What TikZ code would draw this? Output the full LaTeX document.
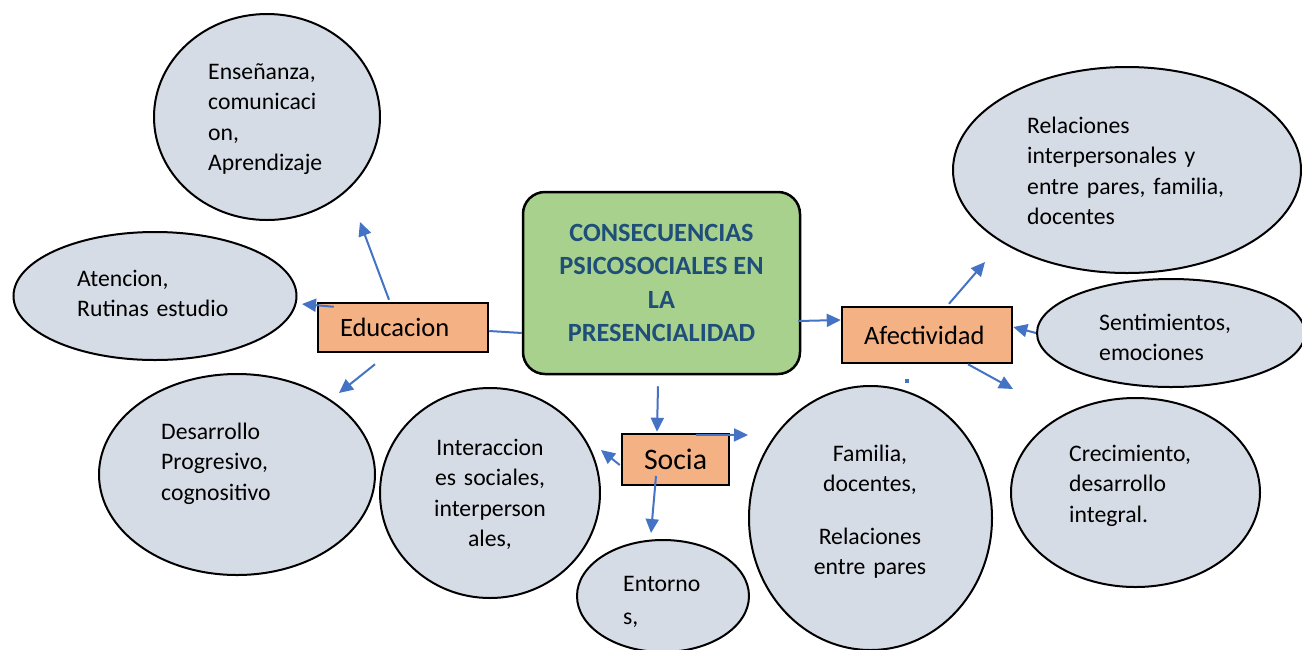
\documentclass[tikz,border=0pt]{standalone}
\usepackage{fontspec}
\setmainfont{Carlito}
\usetikzlibrary{shapes.geometric,arrows.meta,calc}
\definecolor{arrblue}{HTML}{4472C4}
\definecolor{bubblegray}{HTML}{D6DCE5}
\definecolor{branchorange}{HTML}{F4B183}
\definecolor{coregreen}{HTML}{A9D18E}
\definecolor{coretext}{HTML}{1F4E79}
\begin{document}
\begin{tikzpicture}[x=1pt, y=-1pt,
  bubble/.style={ellipse, draw=black, line width=2pt, fill=bubblegray, inner sep=0pt},
  branch/.style={draw=black, line width=2.5pt, fill=branchorange, inner xsep=22pt, inner ysep=0pt, align=left, font=\fontsize{26.5}{30}\selectfont},
  core/.style={draw=black, line width=2.5pt, fill=coregreen, rounded corners=22pt, align=center, text=coretext, font=\fontsize{26.3}{33.4}\selectfont\bfseries},
  txt/.style={anchor=base west, inner sep=0pt, align=left, text width=260pt, font=\fontsize{23.7}{30.6}\selectfont},
  arr/.style={draw=arrblue, line width=2pt, -{Triangle[length=14pt,width=13pt]}}]
\useasboundingbox (0,0) rectangle (1302,649);
\node[core, minimum width=277pt, minimum height=182pt] (C) at (661.5,283) {CONSECUENCIAS\\PSICOSOCIALES EN\\LA\\PRESENCIALIDAD};
\node[branch, text width=126pt, minimum height=49pt] (Edu) at (403,327.5) {Educacion};
\node[branch, text width=126pt, minimum height=56pt] (Afe) at (927,335) {Afectividad};
\node[branch, text width=63pt, minimum height=51pt, font=\fontsize{29.8}{30}\selectfont] (Soc) at (675.5,459.5) {Socia};
% Educacion
\node[bubble, minimum width=226pt, minimum height=206pt] (Edu_1) at (267,117) {};
\node[txt] (Edu_1t) at (208,79) {Enseñanza,\\comunicaci\\on,\\Aprendizaje};
\node[bubble, minimum width=283pt, minimum height=128pt] (Edu_2) at (155,296) {};
\node[txt] (Edu_2t) at (77,286) {Atencion,\\Rutinas estudio};
\node[bubble, minimum width=276pt, minimum height=201pt] (Edu_3) at (237,474.5) {};
\node[txt] (Edu_3t) at (161,439) {Desarrollo\\Progresivo,\\cognositivo};
% Afectividad
\node[bubble, minimum width=348pt, minimum height=206pt] (Afe_1) at (1127,170) {};
\node[txt] (Afe_1t) at (1027,133) {Relaciones\\interpersonales y\\entre pares, familia,\\docentes};
\node[bubble, minimum width=268pt, minimum height=108pt] (Afe_2) at (1171,333) {};
\node[txt] (Afe_2t) at (1099,330) {Sentimientos,\\emociones};
\node[bubble, minimum width=249pt, minimum height=189pt] (Afe_3) at (1135.5,492.5) {};
\node[txt] (Afe_3t) at (1069,461) {Crecimiento,\\desarrollo\\integral.};
% Socia
\node[bubble, minimum width=220pt, minimum height=210pt] (Soc_1) at (490,493) {};
\node[txt, anchor=base, align=center, text width=200pt] (Soc_1t) at (490,455) {Interaccion\\es sociales,\\interperson\\ales,};
\node[bubble, minimum width=172pt, minimum height=112pt] (Soc_2) at (663,596) {};
\node[txt, font=\fontsize{23.7}{33}\selectfont] (Soc_2t) at (623,591) {Entorno\\s,};
\node[bubble, minimum width=243pt, minimum height=264pt] (Soc_3) at (870.5,518) {};
\node[txt, anchor=base, align=center, text width=220pt] (Soc_3t) at (870,461) {Familia,\\docentes,\\[22pt]Relaciones\\entre pares};
% free ends
\coordinate (Edu_1a) at (360,222);
\coordinate (Edu_2a) at (302,304);
\coordinate (Edu_3a) at (339,393);
\coordinate (Afe_1a) at (985,262);
\coordinate (Afe_3a) at (1013,389);
\coordinate (Soc_1a) at (601,450);
\coordinate (Soc_2a) at (651,533);
\coordinate (Soc_3a) at (748,435);
\draw[arr] ($(Edu.north)+(-14,-2)$) -- (Edu_1a);
\draw[arr] ($(Edu.north west)+(17,5)$) -- (Edu_2a);
\draw[arr] ($(Edu.south)+(-28,11)$) -- (Edu_3a);
\draw[draw=arrblue, line width=2pt] ($(Edu.east)+(0,3.5)$) -- ($(C.west)+(0,50)$);
\draw[arr] ($(C.east)+(-3,38)$) -- ($(Afe.west)+(0,-15)$);
\draw[arr] ($(C.south)+(-3.5,11)$) -- ($(Soc.north)+(-18.5,-1)$);
\draw[arr] ($(Afe.north)+(22,-2)$) -- (Afe_1a);
\draw[arr] (Afe_2.west) -- ($(Afe.east)+(0,-8)$);
\draw[arr] ($(Afe.south)+(41,0)$) -- (Afe_3a);
\draw[arr] ($(Soc.west)+(-1,5.5)$) -- (Soc_1a);
\draw[arr] ($(Soc.center)+(-19.5,16.5)$) -- (Soc_2a);
\draw[arr] ($(Soc.north)+(20.5,2)$) -- (Soc_3a);
\fill[arrblue] (905,379) rectangle (909,383);
\end{tikzpicture}
\end{document}
